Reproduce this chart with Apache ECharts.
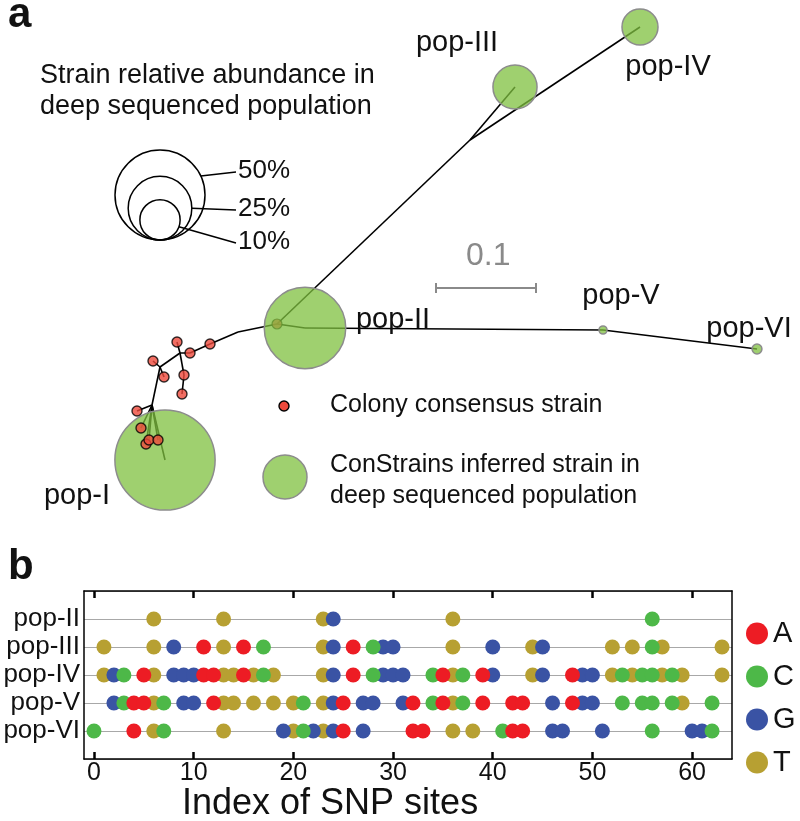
<!DOCTYPE html>
<html>
<head>
<meta charset="utf-8">
<script src="https://cdn.jsdelivr.net/npm/echarts@6/dist/echarts.min.js"></script>
<style>html,body{margin:0;padding:0;background:#fff}#c{width:800px;height:821px}</style>
</head>
<body>
<div id="c"></div>
<script>
// ---------- Panel b data ----------
const populations = ['pop-II', 'pop-III', 'pop-IV', 'pop-V', 'pop-VI'];
const bases = ['A', 'C', 'G', 'T'];
const siteA = [
  [],
  [11, 15, 26],
  [5, 11, 12, 15, 26, 35, 39, 48],
  [4, 5, 12, 25, 32, 35, 39, 42, 43, 48],
  [4, 25, 32, 33, 42, 43]
];
const siteC = [
  [56],
  [17, 28, 56],
  [3, 17, 28, 34, 37, 53, 55, 56, 58],
  [3, 7, 21, 34, 37, 53, 55, 56, 58, 62],
  [0, 7, 21, 41, 56, 62]
];
const siteG = [
  [24],
  [8, 24, 29, 30, 40, 45],
  [2, 8, 9, 10, 24, 29, 30, 31, 40, 45, 49, 50],
  [2, 9, 10, 24, 27, 28, 31, 46, 49, 50],
  [19, 22, 24, 27, 46, 47, 51, 60, 61]
];
const siteT = [
  [6, 13, 23, 36],
  [1, 6, 13, 23, 36, 44, 52, 54, 57, 63],
  [1, 6, 13, 14, 16, 18, 23, 36, 44, 52, 54, 57, 59, 63],
  [6, 13, 14, 16, 18, 20, 23, 36, 59],
  [6, 13, 20, 23, 36, 38]
];
const xTicks = [0, 10, 20, 30, 40, 50, 60];
const xTitle = 'Index of SNP sites';

// ---------- Panel a data (tree layout, in branch-length units) ----------
const nodeName = ['popIV','popIII','B1','root','popII','popV','popVI','bend','c1','c2','J1','c3','c4','c5','J2','c6','c7','J3','c8','c9','c10','c11','c12','popI'];
const nodeX = [0.640,0.515,0.470,0.277,0.305,0.603,0.757,0.238,0.210,0.190,0.180,0.177,0.184,0.182,0.160,0.153,0.164,0.152,0.137,0.141,0.146,0.149,0.158,0.165];
const nodeY = [0.027,0.087,0.140,0.324,0.328,0.330,0.349,0.332,0.344,0.353,0.353,0.342,0.375,0.394,0.367,0.361,0.377,0.405,0.411,0.428,0.444,0.440,0.440,0.460];
const treeEdges = [
  ['root','B1'],['B1','popIII'],['B1','popIV'],['root','popII'],['popII','popV'],['popV','popVI'],
  ['root','bend'],['bend','c1'],['c1','c2'],['c2','J1'],['J1','c3'],['J1','c4'],['c4','c5'],
  ['J1','J2'],['J2','c6'],['J2','c7'],['J2','J3'],['J3','c8'],['J3','c9'],['J3','c10'],
  ['J3','c11'],['J3','c12'],['J3','popI']
];
const colonyNodes = ['c1','c2','c3','c4','c5','c6','c7','c8','c9','c10','c11','c12'];
const hiddenColonyNodes = ['root'];
const popNodes = ['popI','popII','popIII','popIV','popV','popVI'];
const popLabels = ['pop-I','pop-II','pop-III','pop-IV','pop-V','pop-VI'];
const popAbundance = [62, 41, 12, 8, 0.4, 0.6];
const sizeLegendValues = [50, 25, 10];
const sizeLegendLabels = ['50%', '25%', '10%'];
const scaleBarStart = [0.436, 0.288];
const scaleBarLength = 0.1;
const scaleBarLabel = '0.1';

// ---------- styles ----------
const FONT = 'Liberation Sans, Arial, Helvetica, sans-serif';
const baseColor = { A: '#ed1c24', C: '#4db848', G: '#3a53a4', T: '#b7a032' };
const baseZ = { A: 8, C: 7, G: 6, T: 5 };
const popLabelOffset = [[-88, 36], [88, -8], [-58, -44], [28, 40], [18, -34], [-8, -20]];
const green = 'rgba(127,192,63,0.75)';
const R50 = 45;
const radiusOf = a => R50 * Math.sqrt(a / 50);

const idx = n => nodeName.indexOf(n);
const pt = n => [nodeX[idx(n)], nodeY[idx(n)]];

const siteMap = { A: siteA, C: siteC, G: siteG, T: siteT };
const snpSeries = bases.map(b => ({
  name: b,
  type: 'scatter',
  xAxisIndex: 1, yAxisIndex: 1,
  symbol: 'circle',
  symbolSize: 15,
  z: baseZ[b],
  itemStyle: { color: baseColor[b], opacity: 1 },
  data: siteMap[b].flatMap((list, p) => list.map(s => [s, 5 - p]))
}));

const chart = echarts.init(document.getElementById('c'), null, { renderer: 'canvas' });

// size legend graphics
const legCx = 160, legBottom = 240;
const sizeLeaderAngle = [-25, 0, 20];
const sizeLabelY = [172, 210, 243];
const sizeGraphics = [];
sizeLegendValues.forEach((v, i) => {
  const r = radiusOf(v);
  const cy = legBottom - r;
  sizeGraphics.push({ type: 'circle', shape: { cx: legCx, cy: cy, r: r }, style: { fill: 'none', stroke: '#000', lineWidth: 1.5 } });
  const ang = sizeLeaderAngle[i] * Math.PI / 180;
  sizeGraphics.push({ type: 'line', shape: { x1: legCx + r * Math.cos(ang), y1: cy + r * Math.sin(ang), x2: 236, y2: sizeLabelY[i] }, style: { stroke: '#000', lineWidth: 1.5 } });
  sizeGraphics.push({ type: 'text', left: 238, top: sizeLabelY[i] - 14, style: { text: sizeLegendLabels[i], font: '26px ' + FONT, fill: '#111' } });
});

const axisLineStyle = { show: true, onZero: false, lineStyle: { color: '#000', width: 1.5 } };

const option = {
  animation: false,
  backgroundColor: '#fff',
  textStyle: { fontFamily: FONT },
  grid: [
    { left: 0, top: 0, width: 800, height: 560, show: false, outerBoundsMode: 'none', containLabel: false },
    { left: 84, right: 68, top: 591, height: 168, show: false, outerBoundsMode: 'none', containLabel: false }
  ],
  xAxis: [
    { gridIndex: 0, type: 'value', min: 0, max: 0.8, show: false },
    { gridIndex: 1, type: 'value', min: -1, max: 64, position: 'bottom',
      axisLine: axisLineStyle,
      axisTick: { show: true, inside: true, length: 7, lineStyle: { color: '#000', width: 2.5 }, customValues: xTicks },
      axisLabel: { show: true, customValues: xTicks, fontSize: 25, color: '#111', margin: 2 },
      splitLine: { show: false } },
    { gridIndex: 1, type: 'value', min: -1, max: 64, position: 'top',
      axisLine: axisLineStyle,
      axisTick: { show: true, inside: true, length: 7, lineStyle: { color: '#000', width: 2.5 }, customValues: xTicks },
      axisLabel: { show: false }, splitLine: { show: false } }
  ],
  yAxis: [
    { gridIndex: 0, type: 'value', min: 0, max: 0.56, inverse: true, show: false },
    { gridIndex: 1, type: 'value', min: 0, max: 6, interval: 1, position: 'left',
      axisLine: axisLineStyle,
      axisTick: { show: false },
      axisLabel: { fontSize: 26, color: '#111', margin: 4,
        formatter: v => (v >= 1 && v <= 5) ? populations[5 - v] : '' },
      splitLine: { show: true, lineStyle: { color: '#a8a8a8', width: 1 } } },
    { gridIndex: 1, type: 'value', min: 0, max: 6, position: 'right',
      axisLine: axisLineStyle,
      axisTick: { show: false }, axisLabel: { show: false }, splitLine: { show: false } }
  ],
  legend: {
    data: bases, orient: 'vertical', left: 741, top: 614,
    icon: 'circle', itemWidth: 22, itemHeight: 22, itemGap: 14,
    textStyle: { fontSize: 29, color: '#111' },
    selectedMode: false
  },
  series: [
    { name: 'edges', type: 'lines', coordinateSystem: 'cartesian2d', xAxisIndex: 0, yAxisIndex: 0, z: 2,
      lineStyle: { color: '#000', width: 1.6, opacity: 1 },
      data: treeEdges.map(e => ({ coords: [pt(e[0]), pt(e[1])] })) },
    { name: 'hiddenColony', type: 'scatter', xAxisIndex: 0, yAxisIndex: 0, z: 3,
      symbolSize: 10, itemStyle: { color: '#e8473c', borderColor: '#000', borderWidth: 1.2 },
      data: hiddenColonyNodes.map(pt) },
    { name: 'populations', type: 'scatter', xAxisIndex: 0, yAxisIndex: 0, z: 4,
      itemStyle: { color: green, borderColor: '#8c8c8c', borderWidth: 1.5, opacity: 1 },
      symbolSize: v => 2 * radiusOf(v[2]),
      label: { show: true, fontSize: 29, color: '#111', position: 'inside', formatter: p => p.name },
      data: popNodes.map((n, i) => ({ name: popLabels[i], value: [...pt(n), popAbundance[i]],
        label: { offset: popLabelOffset[i] } })) },
    { name: 'colony', type: 'scatter', xAxisIndex: 0, yAxisIndex: 0, z: 5,
      symbolSize: 10, itemStyle: { color: '#ee4a3c', borderColor: '#000', borderWidth: 1.4 },
      data: colonyNodes.map(pt) },
    { name: 'scalebar', type: 'lines', coordinateSystem: 'cartesian2d', xAxisIndex: 0, yAxisIndex: 0, z: 2,
      lineStyle: { color: '#8a8a8a', width: 2, opacity: 1 },
      data: [
        { coords: [scaleBarStart, [scaleBarStart[0] + scaleBarLength, scaleBarStart[1]]] },
        { coords: [[scaleBarStart[0], scaleBarStart[1] - 0.005], [scaleBarStart[0], scaleBarStart[1] + 0.005]] },
        { coords: [[scaleBarStart[0] + scaleBarLength, scaleBarStart[1] - 0.005], [scaleBarStart[0] + scaleBarLength, scaleBarStart[1] + 0.005]] }
      ] },
    ...snpSeries
  ],
  graphic: [
    { type: 'text', left: 8, top: -6, style: { text: 'a', font: 'bold 42px ' + FONT, fill: '#111' } },
    { type: 'text', left: 8, top: 546, style: { text: 'b', font: 'bold 42px ' + FONT, fill: '#111' } },
    { type: 'text', left: 40, top: 62, style: { text: 'Strain relative abundance in', font: '27px ' + FONT, fill: '#111' } },
    { type: 'text', left: 40, top: 93, style: { text: 'deep sequenced population', font: '27px ' + FONT, fill: '#111' } },
    ...sizeGraphics,
    { type: 'text', left: 466, top: 240, style: { text: scaleBarLabel, font: '32px ' + FONT, fill: '#8a8a8a' } },
    { type: 'circle', shape: { cx: 284, cy: 406, r: 5 }, style: { fill: '#ee4a3c', stroke: '#000', lineWidth: 1.4 } },
    { type: 'text', left: 330, top: 393, style: { text: 'Colony consensus strain', font: '25px ' + FONT, fill: '#111' } },
    { type: 'circle', shape: { cx: 285, cy: 477, r: 22 }, style: { fill: green, stroke: '#8c8c8c', lineWidth: 1.5 } },
    { type: 'text', left: 330, top: 453, style: { text: 'ConStrains inferred strain in', font: '25px ' + FONT, fill: '#111' } },
    { type: 'text', left: 330, top: 484, style: { text: 'deep sequenced population', font: '25px ' + FONT, fill: '#111' } },
    { type: 'text', left: 182, top: 786, style: { text: xTitle, font: '36px ' + FONT, fill: '#111' } }
  ]
};
chart.setOption(option);
</script>
</body>
</html>
